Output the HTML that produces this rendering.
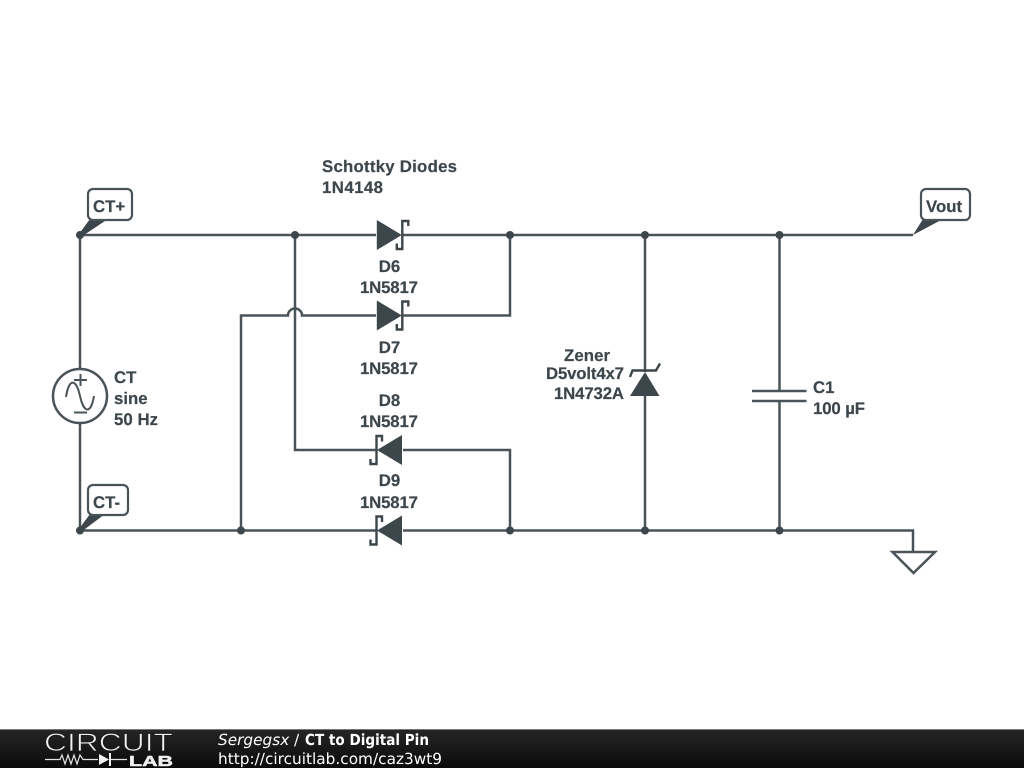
<!DOCTYPE html>
<html><head><meta charset="utf-8"><style>
html,body{margin:0;padding:0;background:#fff;width:1024px;height:768px;overflow:hidden}
svg{display:block}
.t{font-family:"Liberation Sans",sans-serif;font-weight:700;font-size:16.8px;fill:#3d464b;stroke:#3d464b;stroke-width:.2;text-rendering:geometricPrecision}
.f{font-family:"DejaVu Sans",sans-serif;font-size:15.3px;fill:#fff;text-rendering:geometricPrecision}
</style></head><body>
<svg width="1024" height="768" viewBox="0 0 1024 768" xmlns="http://www.w3.org/2000/svg">
<defs>
<linearGradient id="bar" x1="0" y1="0" x2="0" y2="1"><stop offset="0" stop-color="#262626"/><stop offset="1" stop-color="#0a0a0a"/></linearGradient>
<g id="dio"><polygon points="-13,-15 12,0 -13,15" fill="#3d464b" stroke="none"/><path d="M18.5,-9V-14H12.5V14H7V8.500" fill="none" stroke="#3d464b" stroke-width="2.400"/></g>
</defs>
<g fill="none" stroke="#4a5358" stroke-width="2.500">
<path d="M80,235H376M403,235H913M80,235V369M80,423V530.500H376M403,530.500H913V552"/>
<path d="M295,235V450H376M403,450H510V530.500M510,235V315.500H403M376,315.500H302A7,7 0 0 0 288,315.500H241V530.500"/>
<path d="M645,235V372M645,396V530.500M779.500,235V391M779.500,401V530.500"/>
<path d="M752,391H806.500M752,401H806.500"/>
<polygon points="892.500,552 935,552 913.500,573"/>
<circle cx="80" cy="396" r="27"/>
</g>
<g fill="none" stroke="#4a5358" stroke-width="2">
<path d="M74,380H87M80.500,374V386M74,412.500H87"/>
<path d="M66,397C69,378 76,378 80,396S91,414 94,396"/>
</g>
<g fill="#3d464b">
<circle cx="80" cy="235" r="4"/><circle cx="80" cy="530.500" r="4"/>
<circle cx="295" cy="235" r="4"/><circle cx="510" cy="235" r="4"/><circle cx="645" cy="235" r="4"/><circle cx="779.500" cy="235" r="4"/>
<circle cx="241" cy="530.500" r="4"/><circle cx="510" cy="530.500" r="4"/><circle cx="645" cy="530.500" r="4"/><circle cx="779.500" cy="530.500" r="4"/>
<polygon points="79,234 90,219 108,219 81,237"/>
<polygon points="79,529 90,514 105,514 81,532"/>
<polygon points="913,235 923,219 943,219"/>
<polygon points="645,372 659.500,396 630,396"/>
</g>
<use href="#dio" x="389.800" y="235"/>
<use href="#dio" x="389.800" y="315.500"/>
<use href="#dio" transform="translate(389,450) rotate(180)"/>
<use href="#dio" transform="translate(389,530.500) rotate(180)"/>
<path d="M630,377L632.500,370.500H656L660,363.500" fill="none" stroke="#3d464b" stroke-width="2.400"/>
<g fill="#fff" stroke="#4a5358" stroke-width="2.200">
<rect x="88" y="189" width="44" height="31" rx="5"/>
<rect x="88" y="485" width="40" height="30" rx="5"/>
<rect x="921" y="189" width="49" height="31" rx="5"/>
</g>
<text class="t" x="93" y="212">CT+</text>
<text class="t" x="93" y="508">CT-</text>
<text class="t" x="926" y="212">Vout</text>
<text class="t" x="322" y="172" textLength="135">Schottky Diodes</text>
<text class="t" x="322" y="193" textLength="61">1N4148</text>
<text class="t" x="389.500" y="272" text-anchor="middle">D6</text>
<text class="t" x="389" y="293" text-anchor="middle" textLength="58">1N5817</text>
<text class="t" x="389.500" y="353" text-anchor="middle">D7</text>
<text class="t" x="389" y="374" text-anchor="middle" textLength="58">1N5817</text>
<text class="t" x="389.500" y="406" text-anchor="middle">D8</text>
<text class="t" x="389" y="427" text-anchor="middle" textLength="58">1N5817</text>
<text class="t" x="389.500" y="486" text-anchor="middle">D9</text>
<text class="t" x="389" y="508" text-anchor="middle" textLength="58">1N5817</text>
<text class="t" x="587" y="361" text-anchor="middle" textLength="46">Zener</text>
<text class="t" x="585" y="379" text-anchor="middle" textLength="78">D5volt4x7</text>
<text class="t" x="589" y="399" text-anchor="middle" textLength="70">1N4732A</text>
<text class="t" x="114" y="383">CT</text>
<text class="t" x="114" y="404">sine</text>
<text class="t" x="114" y="425" textLength="44">50 Hz</text>
<text class="t" x="813" y="393">C1</text>
<text class="t" x="813" y="414" textLength="52">100 µF</text>
<rect x="0" y="729" width="1024" height="39" fill="url(#bar)"/>
<rect x="0" y="729" width="1024" height="1" fill="#777"/>
<text x="44" y="751" font-family="Liberation Sans,sans-serif" font-size="25" textLength="129" lengthAdjust="spacingAndGlyphs" fill="#f2f2f2" stroke="#1b1b1b" stroke-width="0.8">CIRCUIT</text>
<path d="M45,759.500H60L62,755L65,764L68,755L71,764L74,755L77,764L80,755L83,759.500H98M111,759.500H127" fill="none" stroke="#e4e4e4" stroke-width="1.200"/>
<polygon points="99,754 109,759.500 99,765" fill="#f0f0f0"/>
<rect x="109" y="753" width="2" height="13" fill="#f0f0f0"/>
<text x="129" y="766" font-family="Liberation Sans,sans-serif" font-weight="700" font-size="15" textLength="44" lengthAdjust="spacingAndGlyphs" fill="#f0f0f0" stroke="#f0f0f0" stroke-width="0.5">LAB</text>
<text class="f" x="218" y="745" font-style="italic">Sergegsx</text>
<text class="f" x="294" y="745">/</text>
<text class="f" x="305" y="745" font-weight="700" textLength="124" lengthAdjust="spacingAndGlyphs" style="font-size:15.3px">CT to Digital Pin</text>
<text class="f" x="218" y="764" textLength="224">http://circuitlab.com/caz3wt9</text>
</svg>
</body></html>
